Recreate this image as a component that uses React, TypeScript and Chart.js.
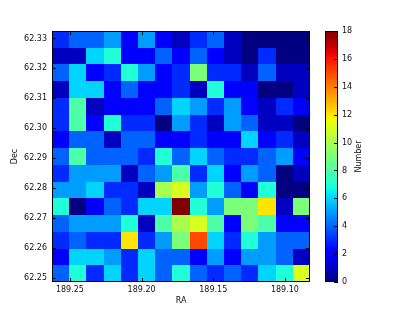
import React, { useEffect, useRef } from 'react';
import { Chart, registerables } from 'chart.js';

Chart.register(...registerables);

// RA bin edges, left (high RA) to right (low RA)
const raEdges = [189.2625, 189.2505, 189.2385, 189.2265, 189.2145, 189.2025, 189.1905, 189.1785,
  189.1665, 189.1545, 189.1425, 189.1305, 189.1185, 189.1065, 189.0945, 189.0825];
// Dec bin edges, top to bottom
const decEdges = [62.3325, 62.3269, 62.3213, 62.3157, 62.3101, 62.3045, 62.2989, 62.2933,
  62.2877, 62.2821, 62.2765, 62.2709, 62.2653, 62.2597, 62.2541, 62.2485];

// counts per cell, rows top (high Dec) to bottom, columns left (high RA) to right
const counts = [
  [3, 4, 4, 5, 2, 5, 2, 1, 3, 4, 1, 0, 0, 0, 0],
  [1, 1, 6, 7, 2, 2, 4, 2, 4, 2, 1, 0, 3, 0, 0],
  [4, 6, 2, 3, 7, 5, 2, 3, 9, 3, 3, 1, 4, 1, 1],
  [1, 6, 6, 2, 4, 2, 2, 3, 1, 7, 2, 2, 0, 0, 1],
  [3, 8, 1, 2, 2, 2, 4, 6, 5, 3, 5, 2, 1, 3, 2],
  [3, 8, 2, 7, 3, 3, 0, 5, 3, 1, 5, 4, 1, 1, 0],
  [2, 4, 4, 1, 4, 4, 2, 2, 3, 2, 2, 6, 2, 3, 1],
  [4, 8, 4, 4, 4, 3, 7, 4, 6, 4, 3, 3, 4, 5, 2],
  [3, 5, 5, 5, 1, 4, 5, 8, 3, 6, 2, 5, 4, 0, 1],
  [5, 5, 6, 3, 3, 1, 10, 11, 5, 7, 4, 2, 7, 0, 0],
  [7, 0, 2, 4, 3, 6, 6, 18, 7, 5, 9, 9, 12, 1, 9],
  [4, 5, 5, 5, 7, 1, 8, 10, 11, 8, 2, 9, 8, 2, 2],
  [3, 4, 3, 3, 12, 3, 5, 9, 15, 6, 3, 7, 5, 4, 4],
  [2, 6, 6, 5, 3, 6, 4, 4, 2, 5, 2, 5, 5, 4, 1],
  [4, 7, 3, 6, 3, 6, 4, 7, 4, 3, 4, 3, 6, 7, 11],
];

const raTicks = [189.25, 189.2, 189.15, 189.1];
const decTicks = [62.25, 62.26, 62.27, 62.28, 62.29, 62.3, 62.31, 62.32, 62.33];
const cbTicks = [0, 2, 4, 6, 8, 10, 12, 14, 16, 18];
const vMin = 0;
const vMax = 18;

const R = [[0, 0], [0.35, 0], [0.66, 1], [0.89, 1], [1, 0.5]];
const G = [[0, 0], [0.125, 0], [0.375, 1], [0.64, 1], [0.91, 0], [1, 0]];
const B = [[0, 0.5], [0.11, 1], [0.34, 1], [0.65, 0], [1, 0]];

function seg(pts: number[][], t: number): number {
  for (let i = 1; i < pts.length; i++) {
    if (t <= pts[i][0]) {
      const [t0, v0] = pts[i - 1];
      const [t1, v1] = pts[i];
      return v0 + (v1 - v0) * ((t - t0) / (t1 - t0));
    }
  }
  return pts[pts.length - 1][1];
}

function jet(v: number): string {
  const t = Math.max(0, Math.min(1, (v - vMin) / (vMax - vMin)));
  const r = Math.round(seg(R, t) * 255);
  const g = Math.round(seg(G, t) * 255);
  const b = Math.round(seg(B, t) * 255);
  return `rgb(${r},${g},${b})`;
}

const FONT = { family: 'DejaVu Sans', size: 8 };
const TEXT = '#111';

const heatmapPlugin = {
  id: 'heatmap',
  beforeDatasetsDraw(chart: any) {
    const { ctx } = chart;
    const xs = chart.scales.x;
    const ys = chart.scales.y;
    ctx.save();
    for (let r = 0; r < counts.length; r++) {
      for (let c = 0; c < counts[r].length; c++) {
        const x0 = Math.round(xs.getPixelForValue(raEdges[c]));
        const x1 = Math.round(xs.getPixelForValue(raEdges[c + 1]));
        const y0 = Math.round(ys.getPixelForValue(decEdges[r]));
        const y1 = Math.round(ys.getPixelForValue(decEdges[r + 1]));
        ctx.fillStyle = jet(counts[r][c]);
        ctx.fillRect(Math.min(x0, x1), Math.min(y0, y1), Math.abs(x1 - x0), Math.abs(y1 - y0));
      }
    }
    ctx.restore();
  },
  afterDraw(chart: any) {
    const { ctx, chartArea: a } = chart;
    const xs = chart.scales.x;
    const ys = chart.scales.y;
    const cb = chart.scales.cb;
    ctx.save();
    ctx.strokeStyle = '#000';
    ctx.lineWidth = 1;
    // inward ticks on all four sides
    const tl = 4;
    ctx.beginPath();
    raTicks.forEach((v) => {
      const x = Math.round(xs.getPixelForValue(v)) + 0.5;
      ctx.moveTo(x, a.bottom); ctx.lineTo(x, a.bottom - tl);
      ctx.moveTo(x, a.top); ctx.lineTo(x, a.top + tl);
    });
    decTicks.forEach((v) => {
      const y = Math.round(ys.getPixelForValue(v)) + 0.5;
      ctx.moveTo(a.left, y); ctx.lineTo(a.left + tl, y);
      ctx.moveTo(a.right, y); ctx.lineTo(a.right - tl, y);
    });
    ctx.stroke();
    // spines
    ctx.strokeRect(a.left + 0.5, a.top + 0.5, a.right - a.left - 1, a.bottom - a.top - 1);

    // colorbar
    const bx0 = Math.round(a.right + 15);
    const bw = 13;
    const yTop = Math.round(cb.getPixelForValue(vMax));
    const yBot = Math.round(cb.getPixelForValue(vMin));
    const grad = ctx.createLinearGradient(0, yBot, 0, yTop);
    for (let i = 0; i <= 64; i++) {
      grad.addColorStop(i / 64, jet(vMin + (vMax - vMin) * (i / 64)));
    }
    ctx.fillStyle = grad;
    ctx.fillRect(bx0, yTop, bw, yBot - yTop);
    ctx.strokeStyle = '#000';
    ctx.strokeRect(bx0 + 0.5, yTop + 0.5, bw - 1, yBot - yTop - 1);
    ctx.beginPath();
    cbTicks.forEach((v) => {
      const y = Math.round(cb.getPixelForValue(v)) + 0.5;
      ctx.moveTo(bx0 + bw, y); ctx.lineTo(bx0 + bw - 4, y);
    });
    ctx.stroke();

    // colorbar label
    ctx.fillStyle = TEXT;
    ctx.font = `${FONT.size}px ${FONT.family}`;
    ctx.textAlign = 'center';
    ctx.textBaseline = 'middle';
    ctx.translate(a.right + 49, (a.top + a.bottom) / 2);
    ctx.rotate(-Math.PI / 2);
    ctx.fillText('Number', 0, 0);
    ctx.restore();
  },
};

export default function App() {
  const ref = useRef<HTMLCanvasElement | null>(null);
  useEffect(() => {
    if (!ref.current) return;
    const data: any[] = [];
    counts.forEach((row, r) =>
      row.forEach((v, c) =>
        data.push({
          x: (raEdges[c] + raEdges[c + 1]) / 2,
          y: (decEdges[r] + decEdges[r + 1]) / 2,
          v,
        })
      )
    );
    const chart = new Chart(ref.current, {
      type: 'scatter',
      data: { datasets: [{ data, pointRadius: 0, pointHoverRadius: 0 }] },
      options: {
        animation: false,
        responsive: false,
        devicePixelRatio: 1,
        events: [],
        layout: { padding: { top: 31, right: 0, bottom: 0, left: 0 } },
        plugins: { legend: { display: false }, tooltip: { enabled: false } },
        scales: {
          x: {
            type: 'linear',
            reverse: true,
            min: raEdges[raEdges.length - 1],
            max: raEdges[0],
            afterBuildTicks: (s: any) => { s.ticks = raTicks.map((value) => ({ value })); },
            afterFit: (s: any) => { s.height = 30; },
            grid: { display: false, drawTicks: false },
            border: { display: false },
            ticks: {
              color: TEXT, font: FONT, padding: 3, maxRotation: 0, autoSkip: false,
              callback: (v: any) => Number(v).toFixed(2),
            },
            title: { display: true, text: 'RA', color: TEXT, font: FONT, padding: { top: 0, bottom: 6 } },
          },
          y: {
            type: 'linear',
            min: decEdges[decEdges.length - 1],
            max: decEdges[0],
            afterBuildTicks: (s: any) => { s.ticks = decTicks.map((value) => ({ value })); },
            afterFit: (s: any) => { s.width = 52; },
            grid: { display: false, drawTicks: false },
            border: { display: false },
            ticks: {
              color: TEXT, font: FONT, padding: 5, autoSkip: false,
              callback: (v: any) => Number(v).toFixed(2),
            },
            title: { display: true, text: 'Dec', color: TEXT, font: FONT, padding: { top: 10, bottom: 0 } },
          },
          cb: {
            type: 'linear',
            position: 'right',
            min: vMin,
            max: vMax,
            afterBuildTicks: (s: any) => { s.ticks = cbTicks.map((value) => ({ value })); },
            afterFit: (s: any) => { s.width = 105; },
            grid: {
              display: true, drawOnChartArea: false, drawTicks: true,
              tickLength: 29, tickColor: 'rgba(0,0,0,0)', color: 'rgba(0,0,0,0)',
            },
            border: { display: false },
            ticks: { color: TEXT, font: FONT, padding: 3, autoSkip: false },
          },
        },
      },
      plugins: [heatmapPlugin],
    } as any);
    return () => chart.destroy();
  }, []);
  return (
    <div style={{ position: 'fixed', left: 0, top: 0, width: 415, height: 312, background: '#fff' }}>
      <canvas ref={ref} width={415} height={312} />
    </div>
  );
}
